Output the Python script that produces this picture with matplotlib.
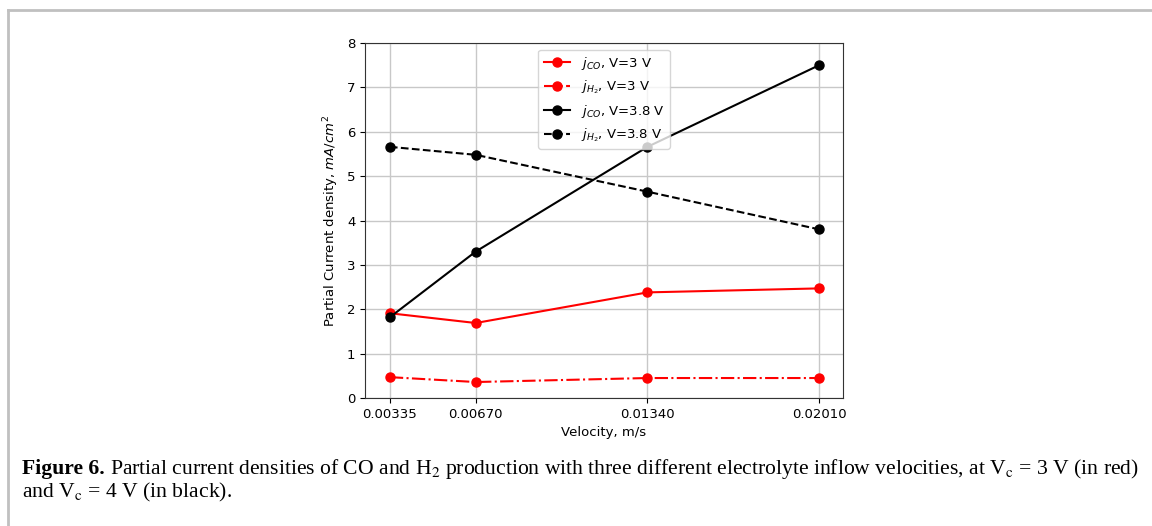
import matplotlib
matplotlib.use("Agg")
import matplotlib.pyplot as plt
from matplotlib.lines import Line2D

velocity = [0.00335, 0.00670, 0.01340, 0.02010]
tick_labels = ["0.00335", "0.00670", "0.01340", "0.02010"]
jco_3 = [1.91, 1.69, 2.38, 2.47]
jh2_3 = [0.47, 0.36, 0.45, 0.45]
jco_38 = [1.82, 3.30, 5.66, 7.50]
jh2_38 = [5.66, 5.48, 4.65, 3.80]

plt.rcParams['font.size'] = 9.5
plt.rcParams['mathtext.fontset'] = 'dejavusans'

W, H = 1152, 526
fig = plt.figure(figsize=(W/100, H/100), dpi=100)
ax = fig.add_axes([365/W, 1-398/H, (843-365)/W, (398-43)/H])

ms = 6.5
lw = 1.5
ax.plot(velocity, jco_3, '-o', color='red', lw=lw, ms=ms, label=r'$j_{CO}$, V=3 V')
ax.plot(velocity, jh2_3, '-.o', color='red', lw=lw, ms=ms, label=r'$j_{H_2}$, V=3 V')
ax.plot(velocity, jco_38, '-o', color='black', lw=lw, ms=ms, label=r'$j_{CO}$, V=3.8 V')
ax.plot(velocity, jh2_38, '--o', color='black', lw=lw, ms=ms, label=r'$j_{H_2}$, V=3.8 V')

ax.set_xticks(velocity)
ax.set_xticklabels(tick_labels)
ax.set_xlim(0.00238, 0.02103)
ax.set_ylim(0, 8)
ax.set_yticks(range(0, 9))
ax.grid(True, color='#c8c8c8', lw=1)
ax.set_xlabel('Velocity, m/s')
ax.set_ylabel(r'Partial Current density, $mA/cm^2$')
for s in ax.spines.values():
    s.set_color('#333333')
ax.legend(loc='upper center', fontsize=9.5, borderaxespad=0.5)

# page frame lines
fig.add_artist(Line2D([8/W, 8/W], [0, 1-10/H], color='#c0c0c0', lw=2, transform=fig.transFigure))
fig.add_artist(Line2D([8/W, 1], [1-10/H, 1-10/H], color='#c0c0c0', lw=2, transform=fig.transFigure))

# caption
cap_font = 'Liberation Serif'
y1 = 1 - 474/H
y2 = 1 - 497/H
x0 = 22/W
line1 = r'Partial current densities of CO and H$_2$ production with three different electrolyte inflow velocities, at V$_\mathrm{c}$ = 3 V (in red)'
line2 = r'and V$_\mathrm{c}$ = 4 V (in black).'

def place(fs):
    t1 = fig.text(x0, y1, 'Figure 6.', fontsize=fs, fontweight='bold', family=cap_font, va='baseline')
    fig.canvas.draw()
    bb = t1.get_window_extent()
    t2 = fig.text((bb.x1 + fs*0.35) / W, y1, line1, fontsize=fs, family=cap_font, va='baseline')
    t3 = fig.text(x0, y2, line2, fontsize=fs, family=cap_font, va='baseline')
    fig.canvas.draw()
    return t1, t2, t3

plt.rcParams['mathtext.fontset'] = 'stix'
fs = 12.8
t1, t2, t3 = place(fs)
end = t2.get_window_extent().x1
for t in (t1, t2, t3):
    t.remove()
fs = fs * (1140 - 22) / (end - 22)
place(fs)

fig.savefig('out.png', dpi=100)
